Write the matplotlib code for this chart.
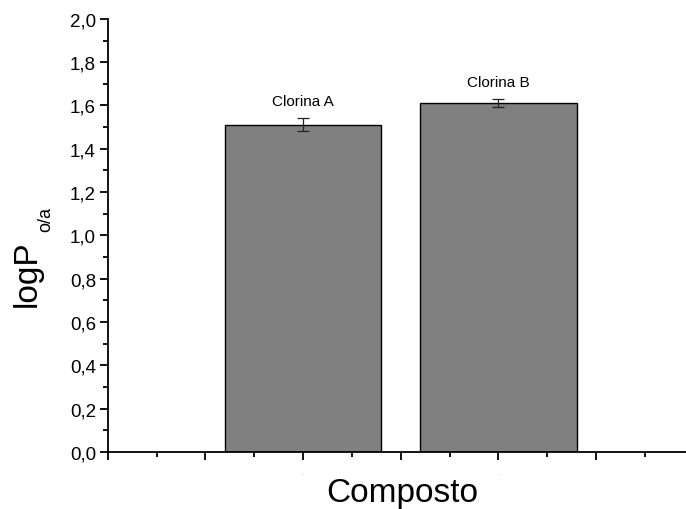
import matplotlib.pyplot as plt
from matplotlib.ticker import MultipleLocator, FixedLocator, FixedFormatter

# donnees
compostos = ['Clorina A', 'Clorina B']
posicoes = [1, 2]
logP = [1.51, 1.61]
erros = [0.030, 0.018]

plt.rcParams['font.family'] = ['Liberation Sans', 'DejaVu Sans']

fig = plt.figure(figsize=(6.86, 5.10), dpi=100)
ax = fig.add_axes([0.157, 0.112, 0.843, 0.849])

ax.bar(posicoes, logP, width=0.8, color='#808080', edgecolor='black', linewidth=1.0, zorder=2)
ax.errorbar(posicoes, logP, yerr=erros, fmt='none', ecolor='#222222', elinewidth=0.9,
            capsize=4, capthick=0.9, zorder=3)

for x, v, e, nome in zip(posicoes, logP, erros, compostos):
    ax.text(x, v + e + 0.05, nome, ha='center', va='bottom', fontsize=11)

ax.set_xlim(0, 2.96)
ax.set_ylim(0, 2.0)

ax.spines['top'].set_visible(False)
ax.spines['right'].set_visible(False)
ax.spines['left'].set_linewidth(1.3)
ax.spines['bottom'].set_linewidth(1.3)

ax.yaxis.set_major_locator(MultipleLocator(0.2))
ax.yaxis.set_minor_locator(MultipleLocator(0.1))
ax.set_yticklabels([f'{v:.1f}'.replace('.', ',') for v in ax.get_yticks()])
ax.xaxis.set_major_locator(FixedLocator([0, 0.5, 1, 1.5, 2, 2.5]))
ax.xaxis.set_major_formatter(FixedFormatter(['', '', '-', '', '-', '']))
ax.xaxis.set_minor_locator(MultipleLocator(0.25))

ax.tick_params(axis='both', which='major', direction='out', length=6, width=1.3, labelsize=13.5)
ax.tick_params(axis='y', which='major', pad=2.5)
ax.tick_params(axis='both', which='minor', direction='out', length=3.5, width=1.3)
ax.tick_params(axis='x', which='major', labelsize=4, labelcolor='#aaaaaa', pad=8)

# titres des axes places a la main (indice plus petit comme sur l'original)
fig.text(36 / 686, 1 - 307 / 510, 'logP', fontsize=24, rotation=90,
         rotation_mode='anchor', ha='left', va='baseline')
fig.text(50 / 686, 1 - 232 / 510, 'o/a', fontsize=13, rotation=90,
         rotation_mode='anchor', ha='left', va='baseline')
fig.text(402 / 686, 1 - 502 / 510, 'Composto', fontsize=24, ha='center', va='baseline')

fig.savefig('out.png', dpi=100)
